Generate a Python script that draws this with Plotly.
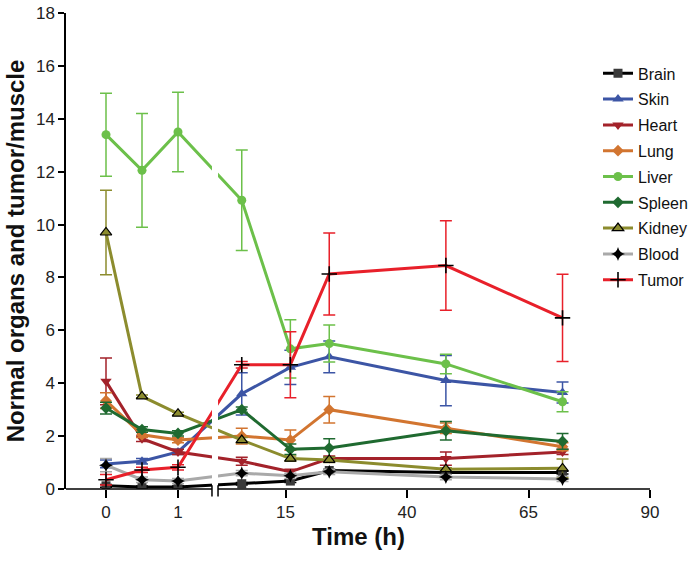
import plotly.graph_objects as go

# ---- data ----
times = [0, 0.5, 1, 6, 16, 24, 48, 72]
organs = ["Brain", "Skin", "Heart", "Lung", "Liver", "Spleen", "Kidney", "Blood", "Tumor"]

brain = [0.12, 0.08, 0.08, 0.2, 0.3, 0.7, 0.62, 0.62]
brain_err = [0.05, 0.03, 0.03, 0.05, 0.05, 0.05, 0.05, 0.05]
skin = [0.95, 1.05, 1.4, 3.6, 4.6, 5.0, 4.1, 3.65]
skin_err = [0.15, 0.1, 0.1, 0.8, 0.65, 0.6, 0.95, 0.4]
heart = [4.07, 1.9, 1.4, 1.05, 0.65, 1.15, 1.15, 1.4]
heart_err = [0.88, 0.1, 0.1, 0.15, 0.1, 0.1, 0.25, 0.1]
lung = [3.34, 2.05, 1.85, 2.0, 1.85, 3.0, 2.3, 1.6]
lung_err = [0.3, 0.1, 0.1, 0.3, 0.38, 0.5, 0.2, 0.15]
liver = [13.4, 12.05, 13.5, 10.92, 5.3, 5.5, 4.73, 3.3]
liver_err = [1.57, 2.15, 1.5, 1.9, 1.1, 0.7, 0.37, 0.38]
spleen = [3.06, 2.25, 2.1, 3.0, 1.5, 1.55, 2.2, 1.8]
spleen_err = [0.22, 0.1, 0.1, 0.1, 0.2, 0.35, 0.35, 0.3]
kidney = [9.7, 3.5, 2.85, 1.85, 1.15, 1.1, 0.75, 0.78]
kidney_err = [1.6, 0.05, 0.05, 0.1, 0.1, 0.1, 0.05, 0.35]
blood = [0.9, 0.35, 0.3, 0.6, 0.5, 0.65, 0.45, 0.38]
blood_err = [0.25, 0.1, 0.1, 0.1, 0.1, 0.1, 0.1, 0.1]
tumor = [0.35, 0.72, 0.82, 4.7, 4.7, 8.13, 8.45, 6.47]
tumor_err = [0.2, 0.1, 0.1, 0.12, 1.25, 1.55, 1.69, 1.65]

x_tick_values = [0, 1, 15, 40, 65, 90]
x_tick_labels = ["0", "1", "15", "40", "65", "90"]
y_tick_values = [0, 2, 4, 6, 8, 10, 12, 14, 16, 18]

# ---- broken time axis: piecewise-linear scale (unit = 72 px of the first segment) ----
SEG1_END = 1.472          # end of first segment (axis units)
SEG2_START = 1.556        # start of second segment (axis units)
SEG2_SCALE = 4.86 / 72.0  # axis units per hour in second segment
SEG2_REF_T, SEG2_REF_U = 15.0, 179.5 / 72.0


def scale_time(t):
    if t <= 1.5:
        return t
    return SEG2_REF_U + (t - SEG2_REF_T) * SEG2_SCALE


X_MIN = -40 / 72.0
X_MAX = scale_time(90)

series = [
    ("Brain", brain, brain_err, "#000000", dict(symbol="square", color="#3a3a3a", size=9)),
    ("Skin", skin, skin_err, "#3c55a5", dict(symbol="triangle-up", color="#3c55a5", size=10)),
    ("Heart", heart, heart_err, "#a3222a", dict(symbol="triangle-down", color="#a3222a", size=10)),
    ("Lung", lung, lung_err, "#d27530", dict(symbol="diamond", color="#d27530", size=9)),
    ("Liver", liver, liver_err, "#6cc04a", dict(symbol="circle", color="#6cc04a", size=9)),
    ("Spleen", spleen, spleen_err, "#1f6a30", dict(symbol="diamond", color="#1f6a30", size=9)),
    ("Kidney", kidney, kidney_err, "#8c8c2e",
     dict(symbol="triangle-up", color="#8c8c2e", size=10, line=dict(color="#000000", width=1.2))),
    ("Blood", blood, blood_err, "#a9a9a9", dict(symbol="star-diamond", color="#000000", size=10)),
    ("Tumor", tumor, tumor_err, "#e8202a",
     dict(symbol="cross-thin", color="#000000", size=11, line=dict(color="#000000", width=1.6))),
]

fig = go.Figure()
xs = [scale_time(t) for t in times]
for name, vals, errs, col, mk in series:
    fig.add_trace(go.Scatter(
        x=xs, y=vals, name=name, legendgroup=name, mode="lines+markers",
        line=dict(color=col, width=3),
        marker=mk,
        error_y=dict(type="data", array=errs, visible=True, color=col, thickness=1.5, width=6),
    ))

L, R, T, B = 66, 47, 12.5, 72.5
W, H = 697, 562
pw = W - L - R
ph = H - T - B


def px_to_paper_x(px):
    return (px - L) / pw


def px_to_paper_y(py):
    return (H - B - py) / ph


shapes = [
    # white gap at the axis break
    dict(type="rect", xref="x", yref="paper", x0=SEG1_END, x1=SEG2_START, y0=0, y1=1,
         fillcolor="white", line=dict(width=0), layer="above"),
    # x axis line, in two pieces
    dict(type="line", xref="x", yref="paper", x0=X_MIN, x1=SEG1_END, y0=0, y1=0,
         line=dict(color="black", width=1.5), layer="above"),
    dict(type="line", xref="x", yref="paper", x0=SEG2_START, x1=X_MAX, y0=0, y1=0,
         line=dict(color="black", width=1.5), layer="above"),
    # break marks
    dict(type="line", xref="x", yref="paper", x0=SEG1_END, x1=SEG1_END, y0=-0.016, y1=0.008,
         line=dict(color="black", width=1.5), layer="above"),
    dict(type="line", xref="x", yref="paper", x0=SEG2_START, x1=SEG2_START, y0=-0.016, y1=0.008,
         line=dict(color="black", width=1.5), layer="above"),
]

fig.update_layout(
    width=W, height=H,
    margin=dict(l=L, r=R, t=T, b=B, autoexpand=False),
    paper_bgcolor="white", plot_bgcolor="white",
    font=dict(family="Liberation Sans, Arial, sans-serif", size=17, color="#222222"),
    showlegend=True,
    legend=dict(x=px_to_paper_x(598), y=px_to_paper_y(56), xanchor="left", yanchor="top",
                bgcolor="rgba(0,0,0,0)", font=dict(size=16, color="#111111"),
                itemwidth=30, tracegroupgap=2, traceorder="grouped"),
    shapes=shapes,
    annotations=[dict(text="Time (h)", xref="paper", yref="paper", x=0.5, y=px_to_paper_y(537),
                      xanchor="center", yanchor="middle", showarrow=False,
                      font=dict(size=24, weight="bold", color="#111111"))],
    xaxis=dict(
        range=[X_MIN, X_MAX], showgrid=False, zeroline=False, showline=False, automargin=False,
        tickmode="array", tickvals=[scale_time(v) for v in x_tick_values], ticktext=x_tick_labels,
        ticks="outside", ticklen=8, tickwidth=1.5, tickcolor="black",
    ),
    yaxis=dict(
        range=[0, 18], showgrid=False, zeroline=False, showline=True, linecolor="black", linewidth=1.5,
        automargin=False,
        tickmode="array", tickvals=y_tick_values,
        ticks="outside", ticklen=6, tickwidth=1.5, tickcolor="black",
        title=dict(text="Normal organs and tumor/muscle", font=dict(size=24, weight="bold", color="#111111"),
                   standoff=5),
    ),
)

fig.write_html("out.html", config={"displayModeBar": False},
               post_script="document.body.style.margin='0px';")
